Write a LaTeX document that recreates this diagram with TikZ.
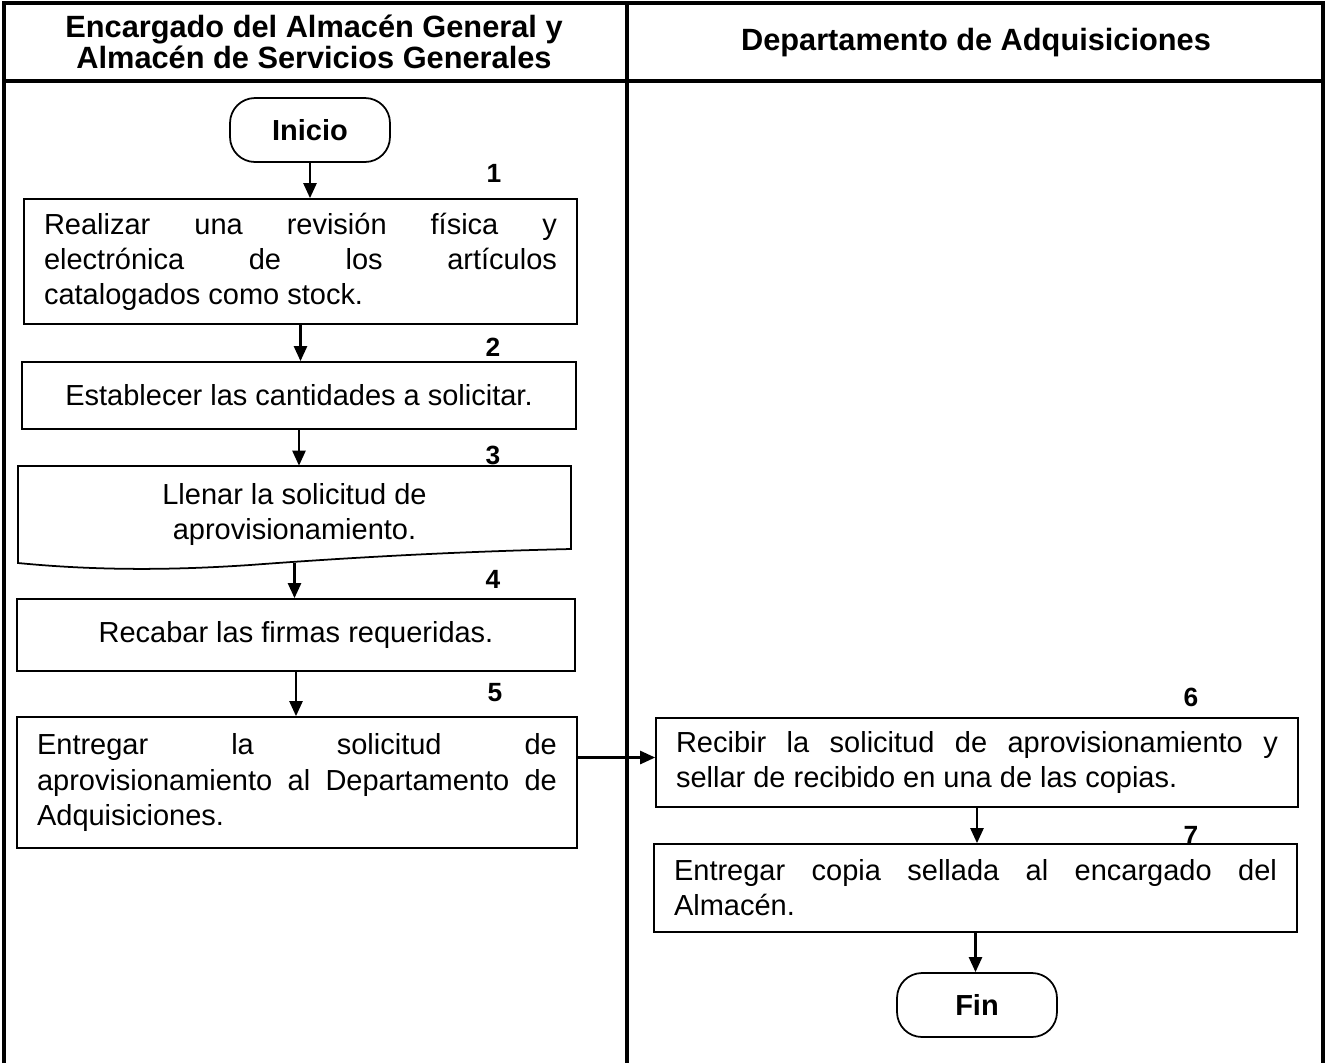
\documentclass[tikz,border=0pt]{standalone}
\usepackage{fontspec}
\setmainfont{Liberation Sans}
\usetikzlibrary{arrows.meta}
\tolerance=10000
\hbadness=10000

\begin{document}
\begin{tikzpicture}[x=0.02cm,y=-0.02cm,
  lane/.style={line width=1.8pt},
  stepbox/.style={draw,rectangle,line width=1pt,inner xsep=0.4cm,font=\fontsize{16.5}{20}\selectfont},
  jbox/.style={stepbox,align=justify},
  cbox/.style={stepbox,align=center},
  term/.style={draw,rectangle,rounded corners=0.5cm,line width=1pt,minimum width=3.2cm,minimum height=1.28cm,font=\bfseries\fontsize{16.5}{16.5}\selectfont},
  numlbl/.style={font=\bfseries\fontsize{15}{15}\selectfont},
  hdr/.style={align=center,font=\bfseries\fontsize{17.5}{17.8}\selectfont},
  arr/.style={line width=1.4pt,-{Triangle[length=0.3cm,width=0.26cm]}}]
\useasboundingbox (0,0) rectangle (1325,1063);
\draw [lane] (4,1063) -- (4,3) -- (1323,3) -- (1323,1063);
\draw [lane] (4,81) -- (1323,81);
\draw [lane] (627,3) -- (627,1063);
\node [hdr] (hdA) at (314,42) {Encargado del Almacén General y\\Almacén de Servicios Generales};
\node [hdr] (hdB) at (976,43) {Departamento de Adquisiciones};

\node [term] (ini) at (310,130) {Inicio};
\node [numlbl] (n1) at (494,173) {1};
\node [jbox,text width=10.26cm,minimum height=2.5cm] (b1) at (300.5,261.5) {Realizar una revisión física y\linebreak electrónica de los artículos\linebreak catalogados como stock.};
\node [numlbl] (n2) at (493,347) {2};
\node [cbox,minimum width=11.08cm,minimum height=1.34cm] (b2) at (299,395.5) {Establecer las cantidades a solicitar.};
\node [numlbl] (n3) at (493,455) {3};
\node [align=center,font=\fontsize{16.5}{20}\selectfont,minimum width=11.06cm,minimum height=1.94cm] (b3) at (294.5,514.5) {Llenar la solicitud de\\aprovisionamiento.};
\draw [line width=1pt] (18,563) -- (18,466) -- (571,466) -- (571,549) .. controls (440,552) and (330,559) .. (250,565) .. controls (190,569) and (110,572) .. (18,563) -- cycle;
\node [numlbl] (n4) at (493,579) {4};
\node [cbox,minimum width=11.16cm,minimum height=1.44cm] (b4) at (296,635) {Recabar las firmas requeridas.};
\node [numlbl] (n5) at (495,693) {5};
\node [jbox,text width=10.4cm,minimum height=2.62cm] (b5) at (297,782.5) {Entregar la solicitud de\linebreak aprovisionamiento al Departamento de\linebreak Adquisiciones.};

\node [numlbl] (n6) at (1191,697) {6};
\node [jbox,text width=12.04cm,minimum height=1.78cm] (b6) at (977,762.5) {Recibir la solicitud de aprovisionamiento y\linebreak sellar de recibido en una de las copias.};
\node [numlbl] (n7) at (1191,835) {7};
\node [jbox,text width=12.06cm,minimum height=1.76cm] (b7) at (975.5,888) {Entregar copia sellada al encargado del\linebreak Almacén.};
\node [term] (fin) at (977,1005) {Fin};

\draw [arr] (ini.south) -- (ini.south |- b1.north);
\draw [arr] (b1.south) -- (b1.south |- b2.north);
\draw [arr] (b2.south) -- (b2.south |- b3.north);
\draw [arr] (b3.south) -- (b3.south |- b4.north);
\draw [arr] (b4.south) -- (b4.south |- b5.north);
\draw [arr] ([yshift=0.1cm]b6.west -| b5.east) -- ([yshift=0.1cm]b6.west);
\draw [arr] (b6.south) -- (b6.south |- b7.north);
\draw [arr] (b7.south) -- (b7.south |- fin.north);
\end{tikzpicture}
\end{document}
